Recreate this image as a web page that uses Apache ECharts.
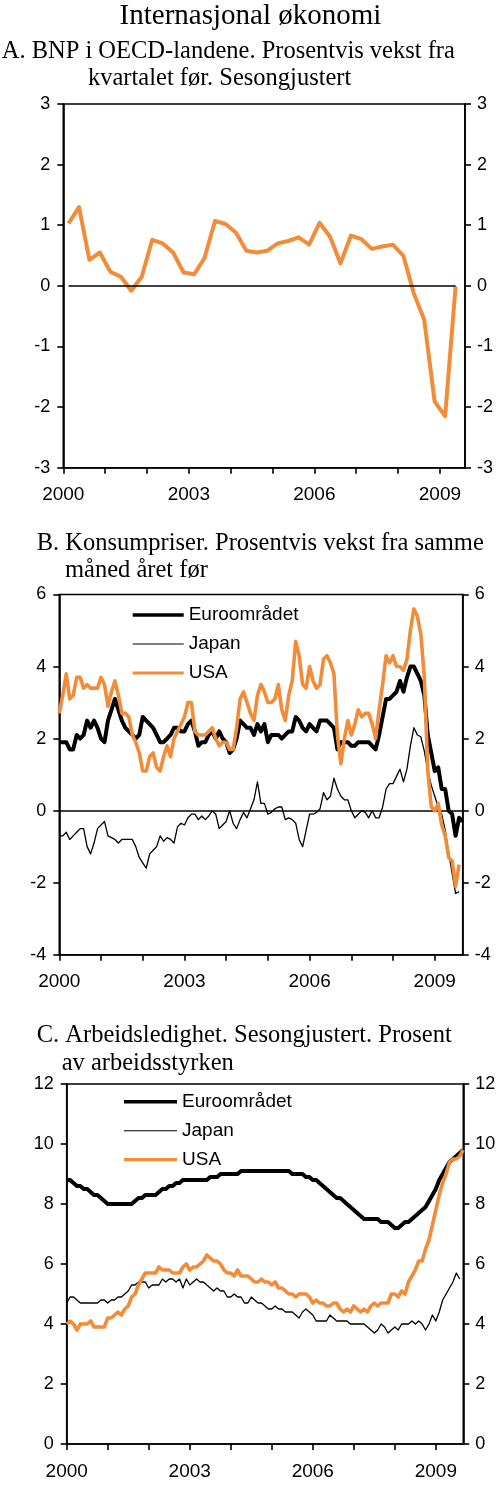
<!DOCTYPE html>
<html><head><meta charset="utf-8">
<script src="https://cdn.jsdelivr.net/npm/echarts@6/dist/echarts.min.js"></script>
<style>html,body{margin:0;padding:0;background:#fff}#c{width:500px;height:1486px}</style>
</head><body><div id="c"></div>
<script>
// ---------- data ----------
const startYear = 2000;
const xTickLabels = ['2000', '2003', '2006', '2009'];
const seriesNames = ['Euroområdet', 'Japan', 'USA'];

// A. GDP OECD, quarterly % q/q, 2000Q1 - 2009Q2
const gdpOECD = [1.03, 1.30, 0.43, 0.55, 0.23, 0.15, -0.08, 0.15, 0.76, 0.70, 0.55, 0.22,
  0.19, 0.46, 1.07, 1.02, 0.88, 0.58, 0.55, 0.58, 0.70, 0.74, 0.80, 0.68,
  1.04, 0.81, 0.37, 0.83, 0.77, 0.61, 0.65, 0.68, 0.50, -0.12, -0.56, -1.91, -2.15, -0.01];

// B. Consumer prices, monthly % y/y from Jan 2000
const cpiEuro = [1.9,1.9,1.9,1.7,1.7,2.1,2.0,2.1,2.5,2.3,2.5,2.3,
  2.0,1.9,2.5,2.8,3.1,2.8,2.5,2.3,2.2,2.1,2.0,2.1,
  2.6,2.5,2.4,2.3,2.1,1.9,1.9,2.0,2.1,2.3,2.3,2.2,
  2.2,2.4,2.5,2.2,1.8,1.9,1.9,2.1,2.2,2.0,2.2,2.0,
  1.9,1.6,1.7,2.0,2.5,2.4,2.3,2.3,2.1,2.4,2.2,2.4,
  1.9,2.1,2.1,2.1,2.0,2.1,2.2,2.2,2.6,2.5,2.3,2.2,
  2.4,2.3,2.2,2.5,2.5,2.5,2.4,2.3,1.7,1.9,1.9,1.9,
  1.8,1.8,1.9,1.9,1.9,1.9,1.8,1.7,2.1,2.6,3.1,3.1,
  3.2,3.3,3.6,3.3,3.7,4.0,4.0,3.8,3.6,3.2,2.1,1.6,
  1.1,1.2,0.6,0.6,0.0,-0.1,-0.7,-0.2,-0.3];
const cpiJapan = [-0.7,-0.7,-0.6,-0.8,-0.7,-0.6,-0.5,-0.5,-1.0,-1.2,-0.9,-0.5,
  -0.4,-0.3,-0.7,-0.75,-0.8,-0.9,-0.8,-0.8,-0.8,-0.8,-1.0,-1.3,
  -1.45,-1.6,-1.2,-1.1,-1.0,-0.7,-0.85,-0.75,-0.8,-0.9,-0.45,-0.35,
  -0.4,-0.2,-0.1,-0.1,-0.25,-0.15,-0.25,-0.15,0.0,-0.1,-0.5,-0.4,
  -0.3,0.0,-0.35,-0.5,-0.25,-0.05,-0.2,0.05,0.3,0.8,0.2,0.2,
  -0.1,-0.05,0.05,0.1,0.1,-0.25,-0.2,-0.25,-0.35,-0.8,-1.0,-0.55,
  -0.1,-0.1,-0.05,0.05,0.5,0.3,0.4,0.9,0.6,0.4,0.3,0.3,
  0.0,-0.2,-0.1,0.0,-0.05,-0.2,0.0,-0.2,-0.2,0.1,0.6,0.75,
  0.75,0.95,1.15,0.8,1.15,1.8,2.3,2.1,2.05,1.65,1.1,0.7,
  0.4,0.1,-0.1,-0.55,-1.15,-1.75,-2.3,-2.25];
const cpiUSA = [2.7,3.2,3.8,3.1,3.2,3.7,3.7,3.4,3.5,3.4,3.4,3.4,
  3.7,3.5,2.9,3.3,3.6,3.2,2.7,2.7,2.6,2.1,1.9,1.6,
  1.1,1.1,1.5,1.6,1.2,1.1,1.5,1.8,1.5,2.0,2.2,2.4,
  2.6,3.0,3.0,2.2,2.1,2.1,2.1,2.2,2.3,2.0,1.8,1.9,
  1.9,1.7,1.7,2.3,3.1,3.3,3.0,2.7,2.5,3.2,3.5,3.3,
  3.0,3.0,3.1,3.5,2.8,2.5,3.2,3.6,4.7,4.3,3.5,3.4,
  4.0,3.6,3.4,3.5,4.2,4.3,4.1,3.8,2.1,1.3,2.0,2.5,
  2.1,2.4,2.8,2.6,2.7,2.7,2.4,2.0,2.8,3.5,4.3,4.1,
  4.3,4.0,4.0,3.9,4.2,5.0,5.6,5.4,4.9,3.7,1.1,0.1,
  0.0,0.2,-0.4,-0.7,-1.3,-1.4,-2.1,-1.5];

// C. Unemployment, monthly % of labour force from Jan 2000
const unempEuro = [8.8,8.8,8.7,8.6,8.6,8.5,8.5,8.4,8.3,8.3,8.2,8.1,
  8.0,8.0,8.0,8.0,8.0,8.0,8.0,8.0,8.1,8.2,8.2,8.3,
  8.3,8.3,8.3,8.4,8.5,8.5,8.6,8.6,8.7,8.7,8.8,8.8,
  8.8,8.8,8.8,8.8,8.8,8.8,8.9,8.9,8.9,9.0,9.0,9.0,
  9.0,9.0,9.0,9.1,9.1,9.1,9.1,9.1,9.1,9.1,9.1,9.1,
  9.1,9.1,9.1,9.1,9.1,9.1,9.0,9.0,9.0,9.0,8.9,8.9,
  8.8,8.8,8.7,8.6,8.5,8.4,8.3,8.2,8.2,8.1,8.0,7.9,
  7.8,7.7,7.6,7.5,7.5,7.5,7.5,7.5,7.4,7.4,7.4,7.3,
  7.2,7.2,7.3,7.4,7.4,7.5,7.6,7.7,7.8,7.9,8.1,8.3,
  8.5,8.8,9.0,9.2,9.4,9.5,9.6,9.7,9.8];
const unempJapan = [4.7,4.9,4.9,4.8,4.7,4.7,4.7,4.7,4.7,4.7,4.8,4.8,
  4.7,4.8,4.8,4.9,4.9,5.0,5.1,5.3,5.3,5.4,5.4,5.4,
  5.2,5.3,5.3,5.3,5.5,5.4,5.5,5.5,5.4,5.5,5.2,5.5,
  5.3,5.4,5.5,5.4,5.4,5.3,5.2,5.1,5.2,5.1,5.1,4.9,
  4.9,5.0,4.9,4.9,4.7,4.7,4.9,4.8,4.7,4.7,4.6,4.5,
  4.5,4.6,4.5,4.5,4.4,4.4,4.4,4.3,4.2,4.4,4.5,4.4,
  4.3,4.1,4.1,4.1,4.1,4.3,4.2,4.1,4.1,4.1,4.1,4.0,
  4.0,4.0,4.0,4.0,3.9,3.8,3.7,3.8,4.0,3.9,3.7,3.8,
  3.9,3.8,4.0,4.0,4.0,4.1,4.0,4.1,4.0,3.8,4.0,4.3,
  4.1,4.4,4.8,5.0,5.2,5.4,5.7,5.5];
const unempUSA = [4.0,4.1,4.0,3.8,4.0,4.0,4.0,4.1,3.9,3.9,3.9,3.9,
  4.2,4.2,4.3,4.4,4.3,4.5,4.6,4.9,5.0,5.3,5.5,5.7,
  5.7,5.7,5.7,5.9,5.8,5.8,5.8,5.7,5.7,5.7,5.9,6.0,
  5.8,5.9,5.9,6.0,6.1,6.3,6.2,6.1,6.1,6.0,5.8,5.7,
  5.7,5.6,5.8,5.6,5.6,5.6,5.5,5.4,5.4,5.5,5.4,5.4,
  5.3,5.4,5.2,5.2,5.1,5.0,5.0,4.9,5.0,5.0,5.0,4.9,
  4.7,4.8,4.7,4.7,4.6,4.6,4.7,4.7,4.5,4.4,4.5,4.4,
  4.6,4.5,4.4,4.5,4.4,4.6,4.7,4.6,4.7,4.7,4.7,5.0,
  5.0,4.9,5.1,5.0,5.4,5.6,5.8,6.1,6.1,6.5,6.8,7.3,
  7.8,8.3,8.7,9.0,9.4,9.5,9.5,9.6,9.8];

// ---------- helpers ----------
const monthly = arr => arr.map((v, i) => [startYear + i / 12, v]);
const quarterly = arr => arr.map((v, i) => [startYear + 0.125 + i * 0.25, v]);

const SANS = '"Liberation Sans", Arial, Helvetica, sans-serif';
const SERIF = '"Liberation Serif", "Times New Roman", Times, serif';
const ORANGE = '#F28C38';
const BLACK = '#000';
const W_THICK = 4, W_THIN = 1.3, W_ORANGE = 3.6, W_AXIS = 1.6;

const grids = [
  { left: 63.3, top: 104, width: 401.7, height: 363.7 },
  { left: 59.3, top: 594.5, width: 403.4, height: 360.2 },
  { left: 66.7, top: 1084, width: 396.6, height: 360 }
].map(g => Object.assign(g, { show: true, borderColor: BLACK, borderWidth: W_AXIS, backgroundColor: 'transparent', containLabel: false }));

const xMaxes = [2009.6, 2009.67, 2009.67];
const xAxes = xMaxes.map((mx, gi) => ({
  type: 'value', gridIndex: gi, min: startYear, max: mx, interval: 1,
  axisLine: { show: true, onZero: false, lineStyle: { color: BLACK, width: W_AXIS } },
  axisTick: { show: true, inside: false, length: 6, lineStyle: { color: BLACK, width: W_AXIS } },
  axisLabel: {
    margin: 18, fontSize: 19, color: BLACK, fontFamily: SANS, hideOverlap: false,
    showMaxLabel: false,
    formatter: v => xTickLabels.includes(String(v)) ? String(v) : ''
  },
  splitLine: { show: false }
}));

const yRanges = [[-3, 3, 1], [-4, 6, 2], [0, 12, 2]];
const yAxes = [];
yRanges.forEach(([mn, mx, iv], gi) => {
  ['left', 'right'].forEach(pos => {
    yAxes.push({
      type: 'value', gridIndex: gi, position: pos, min: mn, max: mx, interval: iv,
      axisLine: { show: true, onZero: false, lineStyle: { color: BLACK, width: W_AXIS } },
      axisTick: { show: true, inside: false, length: 6, lineStyle: { color: BLACK, width: W_AXIS } },
      axisLabel: { margin: pos === 'left' ? 13 : 12, fontSize: 18, color: BLACK, fontFamily: SANS },
      splitLine: { show: false }
    });
  });
});

function lineSeries(name, data, xi, yi, color, width, z, extra) {
  return Object.assign({
    type: 'line', name, data, xAxisIndex: xi, yAxisIndex: yi,
    symbol: 'none', showSymbol: false, smooth: false, animation: false,
    itemStyle: { color }, lineStyle: { color, width, cap: 'butt', join: 'round' },
    z, emphasis: { disabled: true }
  }, extra || {});
}

const zeroLineStyle = { color: BLACK, width: W_AXIS, type: 'solid' };
const gdpData = quarterly(gdpOECD);

const series = [
  lineSeries('BNP', gdpData, 0, 0, ORANGE, 4, 3, {
    markLine: {
      silent: true, symbol: ['none', 'none'], label: { show: false }, animation: false,
      lineStyle: zeroLineStyle,
      data: [[{ coord: [gdpData[0][0], 0] }, { coord: [gdpData[gdpData.length - 1][0], 0] }]]
    }
  }),
  lineSeries(seriesNames[1], monthly(cpiJapan), 1, 2, BLACK, W_THIN, 3, {
    markLine: {
      silent: true, symbol: ['none', 'none'], label: { show: false }, animation: false,
      lineStyle: zeroLineStyle, data: [{ yAxis: 0 }]
    }
  }),
  lineSeries(seriesNames[0], monthly(cpiEuro), 1, 2, BLACK, W_THICK, 4),
  lineSeries(seriesNames[2], monthly(cpiUSA), 1, 2, ORANGE, W_ORANGE, 5),
  lineSeries(seriesNames[1], monthly(unempJapan), 2, 4, BLACK, W_THIN, 3),
  lineSeries(seriesNames[0], monthly(unempEuro), 2, 4, BLACK, W_THICK, 4),
  lineSeries(seriesNames[2], monthly(unempUSA), 2, 4, ORANGE, W_ORANGE, 5)
];

const legendIcons = {
  'Euroområdet': 'path://M0,0H60V' + W_THICK + 'H0Z',
  'Japan': 'path://M0,0H60V' + W_THIN + 'H0Z',
  'USA': 'path://M0,0H60V' + W_ORANGE + 'H0Z'
};
function legendFor(left, top, itemWidth) {
  return {
    orient: 'vertical', left, top, itemWidth, itemHeight: 20, itemGap: 9, padding: 0,
    selectedMode: false, symbolKeepAspect: true,
    itemStyle: { borderWidth: 0 },
    textStyle: { fontSize: 19, fontFamily: SANS, color: BLACK, lineHeight: 20 },
    data: seriesNames.map(n => ({ name: n, icon: legendIcons[n] }))
  };
}

function txt(x, y, text, size, align) {
  return {
    type: 'text', x, y, silent: true,
    style: { text, fill: BLACK, font: size + 'px ' + SERIF, textAlign: align || 'left', textVerticalAlign: 'middle' }
  };
}

const option = {
  backgroundColor: '#fff',
  animation: false,
  grid: grids,
  xAxis: xAxes,
  yAxis: yAxes,
  legend: [legendFor(132.7, 605, 51), legendFor(124, 1091.7, 53)],
  series,
  graphic: [
    txt(250.5, 16.5, 'Internasjonal økonomi', 29, 'center'),
    txt(1.7, 52, 'A. BNP i OECD-landene. Prosentvis vekst fra', 24.5),
    txt(88, 79, 'kvartalet før. Sesongjustert', 24.5),
    txt(36.7, 543.6, 'B. Konsumpriser. Prosentvis vekst fra samme', 24.5),
    txt(65, 570.2, 'måned året før', 24.5),
    txt(36.7, 1035.2, 'C. Arbeidsledighet. Sesongjustert. Prosent', 24.5),
    txt(61.7, 1063.6, 'av arbeidsstyrken', 24.5)
  ]
};

const chart = echarts.init(document.getElementById('c'), null, { renderer: 'canvas' });
chart.setOption(option);
</script>
</body></html>
